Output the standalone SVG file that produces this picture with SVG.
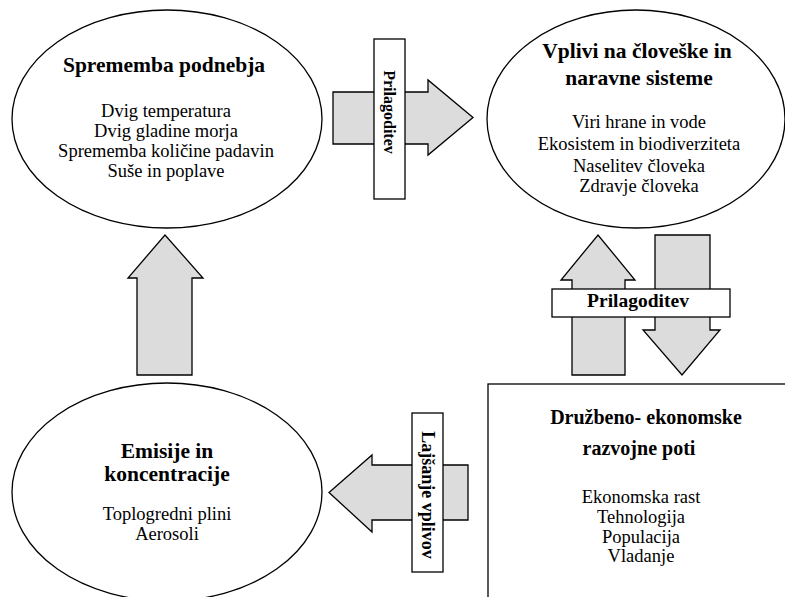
<svg xmlns="http://www.w3.org/2000/svg" width="785" height="597" viewBox="0 0 785 597">
<style>
.node{fill:#ffffff;stroke:#000000;stroke-width:1.3}
.arrow{fill:#dcdcdc;stroke:#000000;stroke-width:1.3;stroke-linejoin:miter}
.label{fill:#ffffff;stroke:#000000;stroke-width:1.3}
text{font-family:"Liberation Serif","Times New Roman",serif;fill:#000000;text-anchor:middle}
.t{font-size:21.5px;font-weight:bold}
.t2{font-size:20px;font-weight:bold}
.b{font-size:18.5px}
.lb{font-weight:bold}
</style>
<rect width="785" height="597" fill="#ffffff"/>
<g id="connectors">
  <g id="arrow-adapt-right">
    <polygon class="arrow" points="333,92 428,92 428,80 473,117.5 428,155 428,144 333,144"/>
    <rect class="label" x="374" y="39" width="31" height="160"/>
    <text class="lb" font-size="16" transform="translate(389.5,112) rotate(90)" y="5.5">Prilagoditev</text>
  </g>
  <g id="arrow-up-left">
    <polygon class="arrow" points="137,375 137,278 128,278 165,235 203,278 192,278 192,375"/>
  </g>
  <g id="arrow-up-right">
    <polygon class="arrow" points="572,375 572,280 561,280 598,235 635,280 625,280 625,375"/>
  </g>
  <g id="arrow-down-right">
    <polygon class="arrow" points="655,235 710,235 710,330 720,330 682,375 643,330 655,330"/>
  </g>
  <g id="label-adapt-mid">
    <rect class="label" x="552" y="289" width="178" height="28"/>
    <text class="lb" font-size="19.5" x="638" y="307">Prilagoditev</text>
  </g>
  <g id="arrow-mitigation-left">
    <polygon class="arrow" points="468,465 468,520 372,520 372,532 329,492.5 372,455 372,465"/>
    <rect class="label" x="412" y="413" width="31" height="159"/>
    <text class="lb" font-size="18" transform="translate(427.5,495) rotate(90)" y="6">Lajšanje vplivov</text>
  </g>
</g>
<g id="node-climate">
  <ellipse class="node" cx="167" cy="119" rx="155" ry="109"/>
  <text class="t" x="164" y="72">Sprememba podnebja</text>
  <text class="b" x="166" y="117">Dvig temperatura</text>
  <text class="b" x="166" y="137">Dvig gladine morja</text>
  <text class="b" x="166" y="157">Sprememba količine padavin</text>
  <text class="b" x="166" y="177">Suše in poplave</text>
</g>
<g id="node-impacts">
  <ellipse class="node" cx="636" cy="119" rx="149" ry="109"/>
  <text class="t" x="637" y="58">Vplivi na človeške in</text>
  <text class="t" x="639" y="85">naravne sisteme</text>
  <text class="b" x="639" y="128">Viri hrane in vode</text>
  <text class="b" x="639" y="150">Ekosistem in biodiverziteta</text>
  <text class="b" x="639" y="172">Naselitev človeka</text>
  <text class="b" x="639" y="192">Zdravje človeka</text>
</g>
<g id="node-emissions">
  <ellipse class="node" cx="167" cy="492" rx="155" ry="109"/>
  <text class="t" x="167" y="458">Emisije in</text>
  <text class="t" x="167" y="481">koncentracije</text>
  <text class="b" x="167" y="520">Toplogredni plini</text>
  <text class="b" x="167" y="540">Aerosoli</text>
</g>
<g id="node-socioeconomic">
  <rect class="node" x="488" y="384" width="310" height="230" stroke-width="1.6"/>
  <text class="t2" x="646" y="424">Družbeno- ekonomske</text>
  <text class="t2" x="639" y="455">razvojne poti</text>
  <text class="b" x="641" y="503">Ekonomska rast</text>
  <text class="b" x="641" y="523">Tehnologija</text>
  <text class="b" x="641" y="543">Populacija</text>
  <text class="b" x="641" y="562">Vladanje</text>
</g>
</svg>
